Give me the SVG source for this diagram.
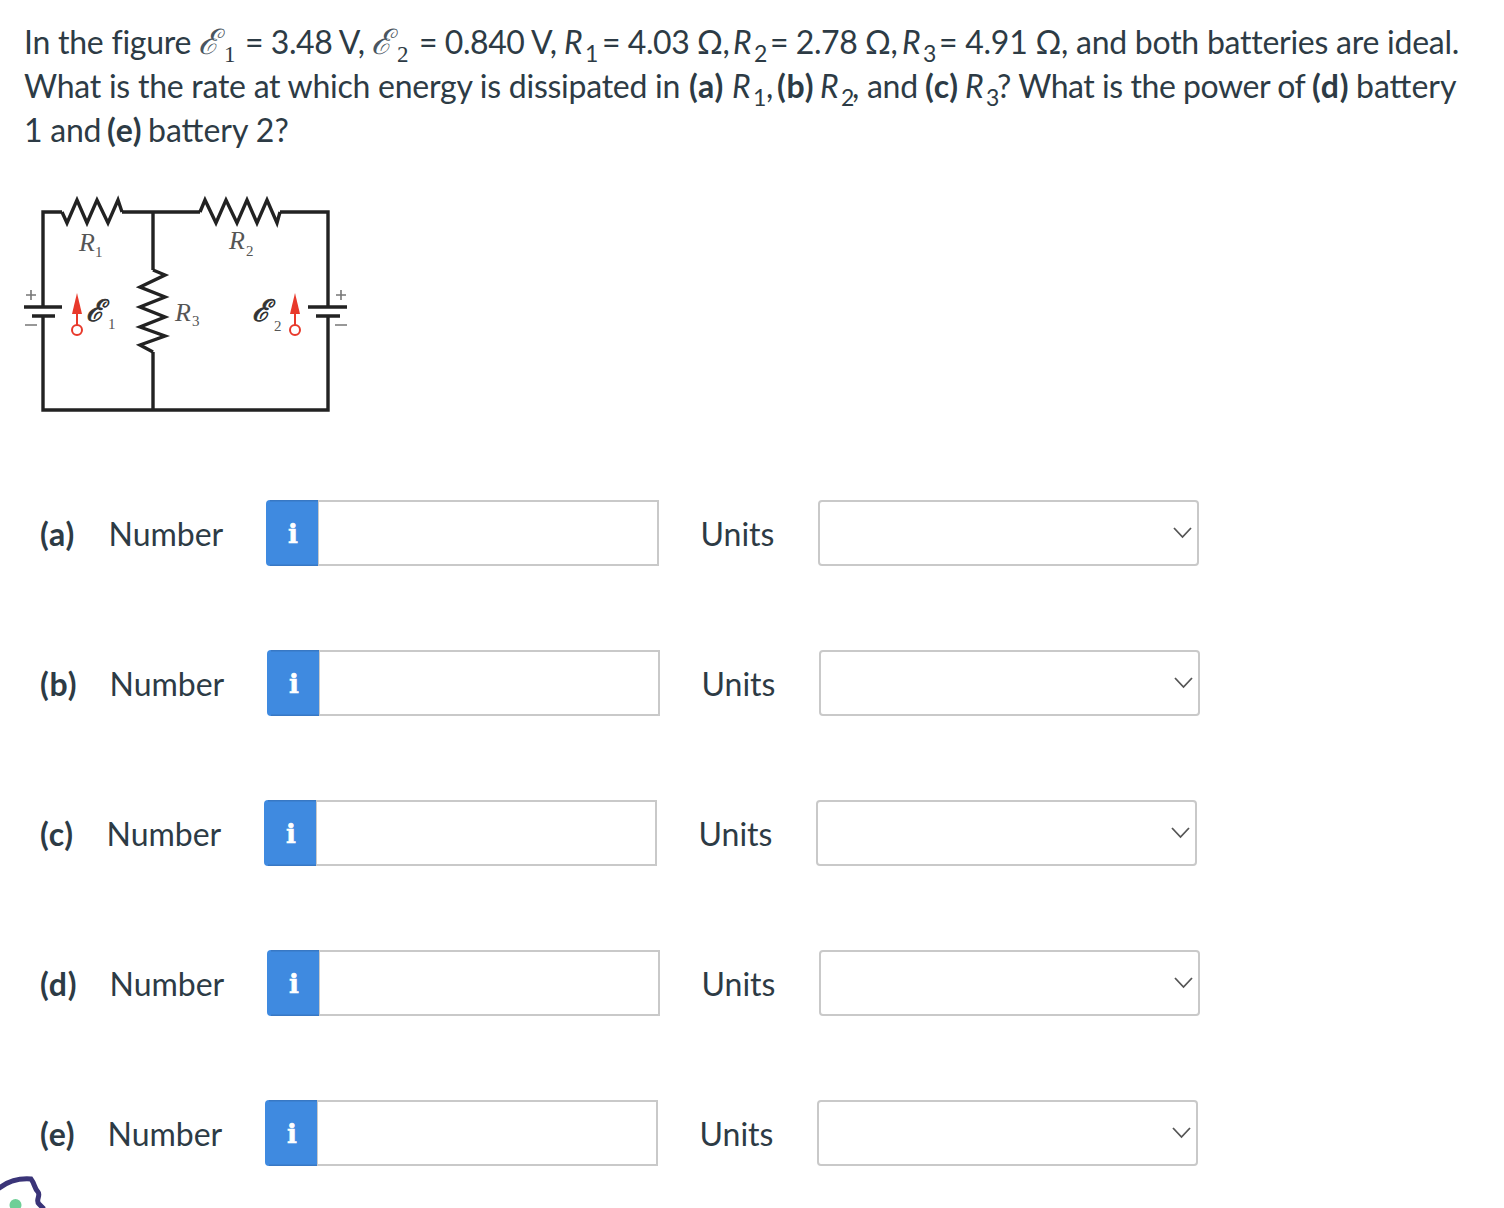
<svg xmlns="http://www.w3.org/2000/svg" width="1504" height="1208" viewBox="0 0 1504 1208">
<style>
text{font-family:Lato,"Noto Sans",sans-serif;font-size:32px;fill:#2d3b45}
.q{letter-spacing:-.25px}
.t{letter-spacing:-.45px}
.b{font-weight:700;letter-spacing:.8px}
.i{font-style:italic}
.s{font-size:23px}
.sf{font-family:"Liberation Serif",serif;font-size:23px;fill:#2d3b45}
.e{font-family:"DejaVu Serif","Liberation Serif",serif;font-style:italic;font-size:35px;fill:#4a5560}
.ce{font-family:"DejaVu Serif","Liberation Serif",serif;font-style:italic;font-size:30px;fill:#333;stroke:#333;stroke-width:.9}
.m{font-family:"Liberation Serif",serif;font-style:italic;font-size:26px;fill:#555}
.ms{font-family:"Liberation Serif",serif;font-size:15px;fill:#555}
.w{fill:none;stroke:#222;stroke-width:3.4}
.p{fill:none;stroke:#777;stroke-width:1.6}
.r{fill:none;stroke:#e8392b;stroke-width:2}
.field{fill:#fff;stroke:#c9c9c9;stroke-width:2}
.chev{fill:none;stroke:#555;stroke-width:1.8}
.info{font-family:"DejaVu Serif",serif;font-weight:700;font-size:26px;fill:#fff;stroke:#fff;stroke-width:.6;text-anchor:middle}
</style>
<defs>
<g id="inputs">
<rect class="field" x="52" y="1" width="340" height="64"/>
<path d="M4 0H52V66H4a4 4 0 0 1-4-4V4a4 4 0 0 1 4-4Z" fill="#3f8ae0"/>
<path d="M4 .8H52M4 65.2H52" stroke="#3878c4" stroke-width="1.6" fill="none"/>
<text class="info" x="27" y="43">i</text>
</g>
<g id="select">
<rect class="field" x="1" y="1" width="379" height="64" rx="3"/>
<path class="chev" d="M356 28l8.500 9 8.500-9"/>
</g>
</defs>

<g id="question">
<text class="q" x="24" y="54">In the figure</text><text class="e" x="198" y="54">ℰ</text><text class="sf" x="224" y="62">1</text>
<text class="t" x="245" y="54">= 3.48 V,</text><text class="e" x="371" y="54">ℰ</text><text class="sf" x="397" y="62">2</text>
<text class="t" x="419" y="54">= 0.840 V,</text><text class="i" x="564" y="54">R</text><text class="s" x="585" y="62">1</text>
<text class="t" x="602" y="54">= 4.03 Ω,</text><text class="i" x="733" y="54">R</text><text class="s" x="754" y="62">2</text>
<text class="t" x="770" y="54">= 2.78 Ω,</text><text class="i" x="902" y="54">R</text><text class="s" x="923" y="62">3</text>
<text class="q" x="939" y="54">= 4.91 Ω, and both batteries are ideal.</text>
<text class="q" x="24" y="98">What is the rate at which energy is dissipated in</text><text class="b" x="689" y="98">(a)</text><text class="i" x="732" y="98">R</text><text class="s" x="753" y="106">1</text><text x="766" y="98">,</text>
<text class="b" x="777" y="98">(b)</text><text class="i" x="820" y="98">R</text><text class="s" x="841" y="106">2</text><text class="q" x="852" y="98">, and</text>
<text class="b" x="925" y="98">(c)</text><text class="i" x="965" y="98">R</text><text class="s" x="986" y="106">3</text><text class="t" x="997" y="98">? What is the power of</text>
<text class="b" x="1312" y="98">(d)</text><text x="1356" y="98">battery</text>
<text class="q" x="24" y="142">1 and</text><text class="b" x="107" y="142">(e)</text><text x="148" y="142">battery 2?</text>
</g>

<g id="connectors">
<path class="w" d="M62 212H43V307M43 316V410H328V316M328 307V212H280M200 212H122M153 212V270M153 352V410"/>
</g>
<g id="R1"><path class="w" d="M62 212l5 11 10-23 10 23 10-23 11 23 10-23 4 12"/><text class="m" x="79" y="251">R</text><text class="ms" x="95" y="257">1</text></g>
<g id="R2"><path class="w" d="M200 212l5-12 11 23 10-23 11 23 10-23 10 23 10-23 10 23 3-11"/><text class="m" x="229" y="249">R</text><text class="ms" x="246" y="256">2</text></g>
<g id="R3"><path class="w" d="M153 270l12 5-25 12 25 10-25 10 25 10-25 10 25 9-25 9 13 7"/><text class="m" x="175" y="321">R</text><text class="ms" x="192" y="326">3</text></g>
<g id="battery1">
<path class="w" d="M24 307H62M32 316H55"/><path class="p" d="M26 295H36M31 290V300M25 325H37"/>
<path d="M77 293l-5 21h10Z" fill="#e8392b"/><path class="r" d="M77 314V325"/><circle class="r" cx="77" cy="330" r="5"/>
<text class="ce" x="86" y="321">ℰ</text><text class="ms" x="108" y="329">1</text>
</g>
<g id="battery2">
<path class="w" d="M308 307H347M316 316H340"/><path class="p" d="M336 295H346M341 290V300M335 325H347"/>
<path d="M295 293l-5 21h10Z" fill="#e8392b"/><path class="r" d="M295 314V325"/><circle class="r" cx="295" cy="330" r="5"/>
<text class="ce" x="252" y="321">ℰ</text><text class="ms" x="274" y="331">2</text>
</g>

<g id="row-a"><text class="b" x="40" y="546">(a)</text><text x="108.500" y="546">Number</text><use href="#inputs" x="266" y="500"/><text x="700.500" y="546">Units</text><use href="#select" x="818" y="500"/></g>
<g id="row-b"><text class="b" x="40" y="696">(b)</text><text x="109.500" y="696">Number</text><use href="#inputs" x="267" y="650"/><text x="701.500" y="696">Units</text><use href="#select" x="819" y="650"/></g>
<g id="row-c"><text class="b" x="40" y="846">(c)</text><text x="106.500" y="846">Number</text><use href="#inputs" x="264" y="800"/><text x="698.500" y="846">Units</text><use href="#select" x="816" y="800"/></g>
<g id="row-d"><text class="b" x="40" y="996">(d)</text><text x="109.500" y="996">Number</text><use href="#inputs" x="267" y="950"/><text x="701.500" y="996">Units</text><use href="#select" x="819" y="950"/></g>
<g id="row-e"><text class="b" x="40" y="1146">(e)</text><text x="107.500" y="1146">Number</text><use href="#inputs" x="265" y="1100"/><text x="699.500" y="1146">Units</text><use href="#select" x="817" y="1100"/></g>

<g id="corner">
<path d="M-2 1189C8 1181 18 1178 31 1179C35 1184 34 1188 38 1192C41 1196 35 1200 39 1204L44 1209" fill="none" stroke="#3a3478" stroke-width="5"/>
<circle cx="15.500" cy="1205" r="6" fill="#6fcf97"/>
</g>
</svg>
